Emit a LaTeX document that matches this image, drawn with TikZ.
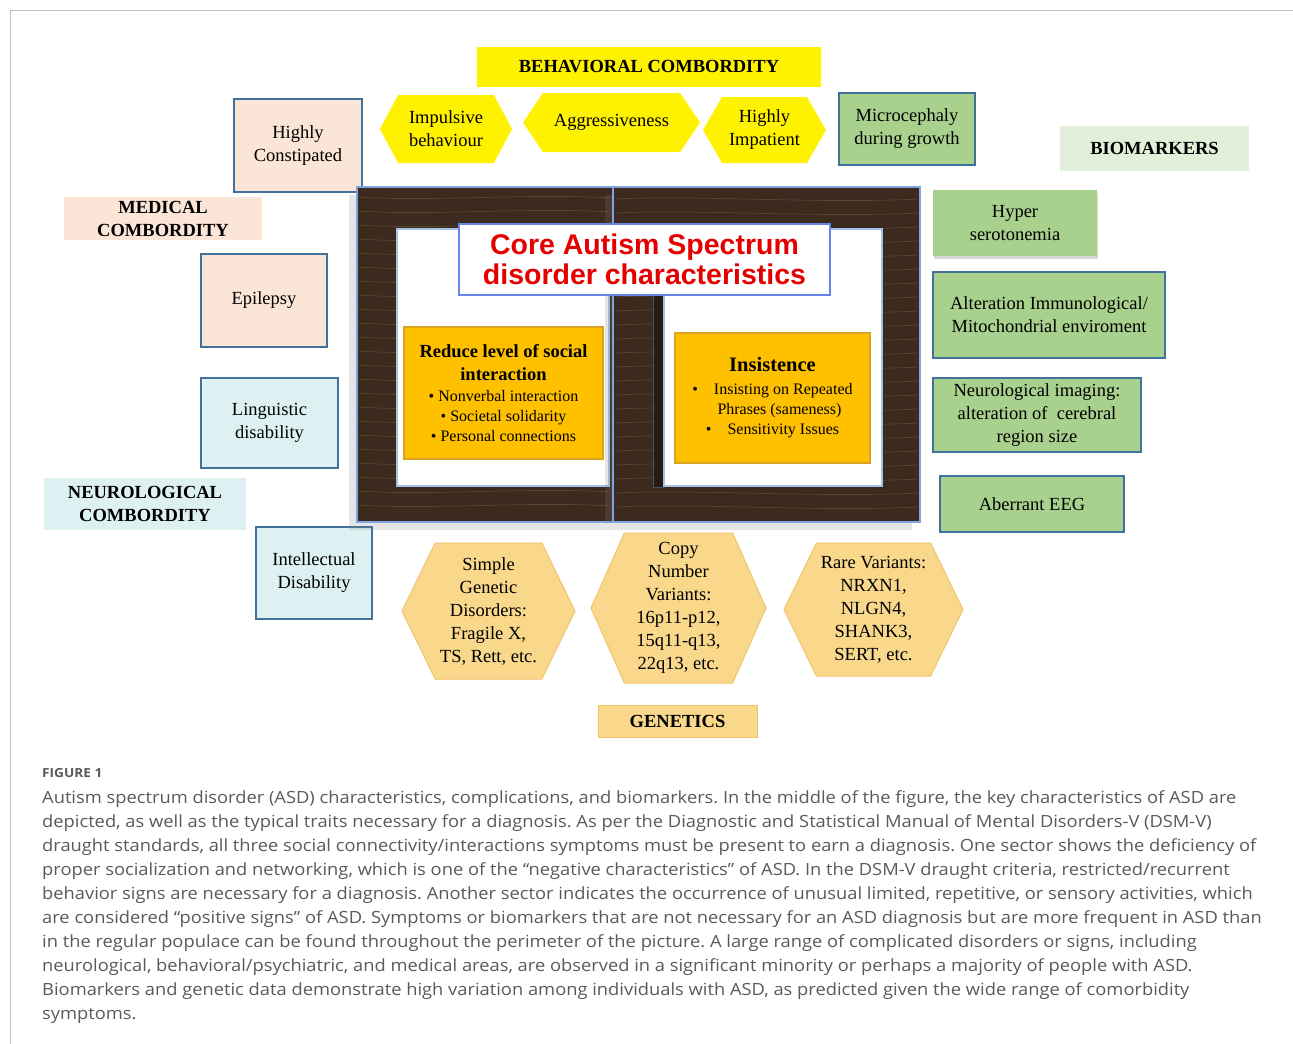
\documentclass[tikz,border=0pt]{standalone}
\usepackage{fontspec}
\setmainfont{Liberation Serif}
\newfontfamily\headfont{Liberation Sans}
\newfontfamily\capfont[FakeStretch=1.09]{Open Sans}
\usepackage{xcolor}
\usepackage{tikz}
\usetikzlibrary{shapes.symbols,shadows,positioning}

\definecolor{peach}{HTML}{FBE5D6}
\definecolor{paleteal}{HTML}{DEF1F2}
\definecolor{leafgreen}{HTML}{A9D18E}
\definecolor{palegreen}{HTML}{E2EFDA}
\definecolor{boxedge}{HTML}{41719C}
\definecolor{gold}{HTML}{FFC000}
\definecolor{goldedge}{HTML}{D9A520}
\definecolor{honey}{HTML}{F9D88C}
\definecolor{honeyedge}{HTML}{F2C36A}
\definecolor{wood}{HTML}{3D2A1E}
\definecolor{grain}{HTML}{7A6048}
\definecolor{glow}{HTML}{7FA6E0}
\definecolor{capgray}{HTML}{5A5A5A}

\newcommand{\traithead}[1]{{\bfseries\fontsize{18.5}{23}\selectfont #1}}

\begin{document}
\frenchspacing
\begin{tikzpicture}[x=1pt, y=-1pt,
    box/.style={rectangle, draw=boxedge, line width=1.2pt, align=center, inner sep=2pt, font=\fontsize{18.5}{23}\selectfont},
    medbox/.style={box, fill=peach},
    neurobox/.style={box, fill=paleteal},
    greenbox/.style={box, fill=leafgreen},
    groupname/.style={rectangle, align=center, inner sep=2pt, font=\bfseries\fontsize{18.5}{23}\selectfont},
    hexbox/.style={signal, signal to=east and west, align=center, inner sep=1pt, font=\fontsize{18.5}{23}\selectfont},
    genebox/.style={hexbox, fill=honey, draw=honeyedge, line width=1pt, signal pointer angle=128},
    panel/.style={rectangle, fill=wood, draw=glow, line width=2.5pt, drop shadow={shadow xshift=-8pt, shadow yshift=-8pt, opacity=.2}},
    inner/.style={rectangle, fill=white, draw=glow!70, line width=1.5pt},
    traitbox/.style={rectangle, fill=gold, draw=goldedge, line width=1.2pt, align=center, inner sep=2pt, font=\fontsize{16}{20}\selectfont},
    grainline/.style={draw=grain, line width=.7pt, opacity=.5}
]

\useasboundingbox[fill=white] (0,0) rectangle (1293,1044);
\draw[black!25, line width=1pt] (10,1044) -- (10,10) -- (1293,10);

% behavioral
\node[groupname, fill=yellow, minimum width=344pt, minimum height=40pt] (behav) at (649,67) {BEHAVIORAL COMBORDITY};
\node[hexbox, fill=yellow, signal pointer angle=124, minimum width=132pt, minimum height=68pt] (impulsive) at (446,129) {Impulsive\\behaviour};
\node[hexbox, fill=yellow, signal pointer angle=112, minimum width=177pt, minimum height=59pt] (aggress) at (611.5,122.5) {Aggressiveness};
\node[hexbox, fill=yellow, signal pointer angle=120, minimum width=123pt, minimum height=66pt] (impatient) at (764.5,130) {Highly\\Impatient};

% medical and neurological
\node[medbox, minimum width=128pt, minimum height=93pt] (constip) at (298,145.5) {Highly\\Constipated};
\node[groupname, fill=peach, minimum width=198pt, minimum height=43pt] (medical) at (163,218.5) {MEDICAL\\COMBORDITY};
\node[medbox, minimum width=126pt, minimum height=93pt] (epilepsy) at (264,300.5) {Epilepsy};
\node[neurobox, minimum width=137pt, minimum height=90pt] (linguistic) at (269.5,423) {Linguistic\\disability};
\node[groupname, fill=paleteal, minimum width=202pt, minimum height=52pt] (neuro) at (145,504) {NEUROLOGICAL\\COMBORDITY};
\node[neurobox, minimum width=116pt, minimum height=92pt] (intellect) at (314,573) {Intellectual\\Disability};

% biomarkers
\node[greenbox, minimum width=136pt, minimum height=72pt] (microceph) at (907,129) {Microcephaly\\during growth};
\node[groupname, fill=palegreen, minimum width=189pt, minimum height=45pt] (biomark) at (1154.5,148.5) {BIOMARKERS};
\node[greenbox, draw=none, minimum width=164pt, minimum height=66pt, drop shadow={shadow xshift=1pt, shadow yshift=-3pt, opacity=.3}] (hyper) at (1015,223) {Hyper\\serotonemia};
\node[greenbox, minimum width=232pt, minimum height=86pt] (immuno) at (1049,315) {Alteration Immunological/\\Mitochondrial enviroment};
\node[greenbox, minimum width=208pt, minimum height=74pt] (imaging) at (1037,415) {Neurological imaging:\\alteration of\ \ cerebral\\region size};
\node[greenbox, minimum width=184pt, minimum height=56pt] (eeg) at (1032,504) {Aberrant EEG};

% core frame
\node[panel, minimum width=256pt, minimum height=335pt] (leftpanel) at (485,354.5) {};
\foreach \g in {197,211,...,515}
  \draw[grainline] (359,\g) .. controls (430,\g+5) and (530,\g-4) .. (611,\g+1);
\node[inner, minimum width=212pt, minimum height=257pt] (leftinner) at (503,357.5) {};
\node[panel, minimum width=307pt, minimum height=335pt] (rightpanel) at (766.5,354.5) {};
\foreach \g in {199,213,...,515}
  \draw[grainline] (616,\g) .. controls (700,\g-4) and (820,\g+5) .. (918,\g);
\node[rectangle, fill=black!35!wood, draw=glow!50!black, line width=.8pt, minimum width=10pt, minimum height=259pt] (bevel) at (658,357.5) {};
\node[inner, minimum width=218pt, minimum height=257pt] (rightinner) at (773,357.5) {};
\node[rectangle, fill=white, draw=glow!80!blue, line width=1.2pt, minimum width=371pt, minimum height=71pt, align=center, text=red!90!black, font=\headfont\bfseries\fontsize{28.5}{30}\selectfont] (title) at (644.5,259.5) {Core Autism Spectrum\\disorder characteristics};
\node[traitbox, minimum width=199pt, minimum height=132pt] (social) at (503.5,393) {\traithead{Reduce level of social}\\[3pt]\traithead{interaction}\\[1pt] • Nonverbal interaction\\• Societal solidarity\\• Personal connections};
\node[traitbox, minimum width=195pt, minimum height=130pt] (insist) at (772.5,398) {\traithead{\fontsize{20.5}{23}\selectfont Insistence}\\[3pt] •\quad Insisting on Repeated\\\hspace{14pt}Phrases (sameness)\\•\quad Sensitivity Issues};

% genetics
\node[genebox, minimum width=173pt, minimum height=136pt] (simple) at (488.5,611) {Simple\\Genetic\\Disorders:\\Fragile X,\\TS, Rett, etc.};
\node[genebox, signal pointer angle=132, minimum width=175pt, minimum height=150pt] (copynum) at (678.5,608) {Copy\\Number\\Variants:\\16p11-p12,\\15q11-q13,\\22q13, etc.};
\node[genebox, minimum width=179pt, minimum height=133pt] (rare) at (873.5,609.5) {Rare Variants:\\NRXN1,\\NLGN4,\\SHANK3,\\SERT, etc.};
\node[groupname, fill=honey, draw=honeyedge, line width=1pt, minimum width=159pt, minimum height=32pt] (genetics) at (677.5,721) {GENETICS};

% caption
\node[anchor=west, inner sep=0pt, text=capgray, font=\capfont\bfseries\fontsize{12.5}{15}\selectfont] (figlabel) at (42,773) {FIGURE 1};
\node[anchor=north west, align=left, inner sep=0pt, text=capgray, font=\capfont\fontsize{16.8}{24}\selectfont] (caption) at (42,790) {Autism spectrum disorder (ASD) characteristics, complications, and biomarkers. In the middle of the figure, the key characteristics of ASD are\\
depicted, as well as the typical traits necessary for a diagnosis. As per the Diagnostic and Statistical Manual of Mental Disorders-V (DSM-V)\\
draught standards, all three social connectivity/interactions symptoms must be present to earn a diagnosis. One sector shows the deficiency of\\
proper socialization and networking, which is one of the “negative characteristics” of ASD. In the DSM-V draught criteria, restricted/recurrent\\
behavior signs are necessary for a diagnosis. Another sector indicates the occurrence of unusual limited, repetitive, or sensory activities, which\\
are considered “positive signs” of ASD. Symptoms or biomarkers that are not necessary for an ASD diagnosis but are more frequent in ASD than\\
in the regular populace can be found throughout the perimeter of the picture. A large range of complicated disorders or signs, including\\
neurological, behavioral/psychiatric, and medical areas, are observed in a significant minority or perhaps a majority of people with ASD.\\
Biomarkers and genetic data demonstrate high variation among individuals with ASD, as predicted given the wide range of comorbidity\\
symptoms.};

\end{tikzpicture}
\end{document}
